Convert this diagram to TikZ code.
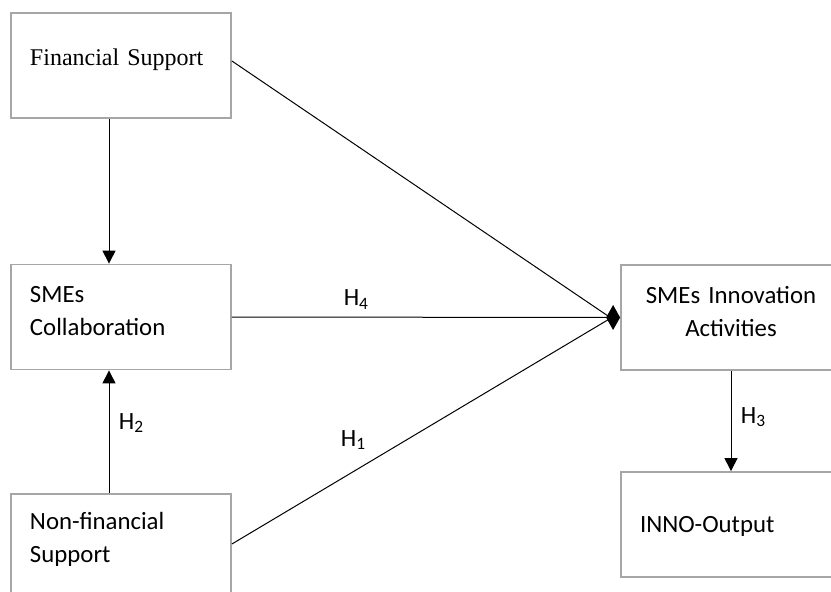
\documentclass[tikz,border=0pt]{standalone}
\usepackage{fontspec}
\usetikzlibrary{arrows.meta}
\newfontfamily\calibrifont{Carlito}
\newfontfamily\cambriafont{Liberation Serif}
\definecolor{boxgray}{RGB}{166,166,166}
\newcommand{\hyp}[1]{H\textsubscript{#1}}
\tikzset{
  box/.style={draw=boxgray, line width=1.8pt, minimum width=220pt, minimum height=105pt,
    inner xsep=19pt, text width=182pt, align=left, text depth=46pt,
    font=\calibrifont\fontsize{24.8}{33}\selectfont},
  link/.style={line width=1pt},
  arr/.style={link, -{Triangle[width=13pt,length=13pt]}},
  hyplabel/.style={font=\calibrifont\fontsize{24.8}{30}\selectfont}
}
\begin{document}
\begin{tikzpicture}[x=1pt,y=-1pt]
\useasboundingbox (0,0) rectangle (831,592);
\node[box, text depth=16pt, font=\cambriafont\fontsize{24}{30}\selectfont] (fin) at (121,65.5) {Financial Support};
\node[box] (collab) at (121,317) {SMEs\\Collaboration};
\node[box, text depth=52pt] (nonfin) at (121,546.5) {Non-financial\\Support};
\node[box, align=center] (innov) at (731,317.5) {SMEs Innovation\\Activities};
\node[box, text depth=0pt] (inno) at (731,524.5) {INNO-Output};
\coordinate (hub) at (611,318);
\draw[arr] ([xshift=-12pt]fin.south) -- ([xshift=-12pt]collab.north);
\draw[arr] ([xshift=-12pt]nonfin.north) -- node[right=6pt,pos=.57,hyplabel] (h2) {\hyp{2}} ([xshift=-12pt]collab.south);
\draw[link] ([yshift=4.5pt]fin.east) -- (hub);
\draw[link] ([yshift=2.5pt]nonfin.east) -- node[above=18pt,pos=.32,hyplabel] (h1) {\hyp{1}} (hub);
\draw[link,-{Diamond[width=25pt,length=14pt]}] (collab.east) -- node[above=4pt,pos=.32,hyplabel] (h4) {\hyp{4}} (innov.west);
\draw[arr] (innov.south) -- node[right=6pt,pos=.46,hyplabel] (h3) {\hyp{3}} (inno.north);
\end{tikzpicture}
\end{document}
